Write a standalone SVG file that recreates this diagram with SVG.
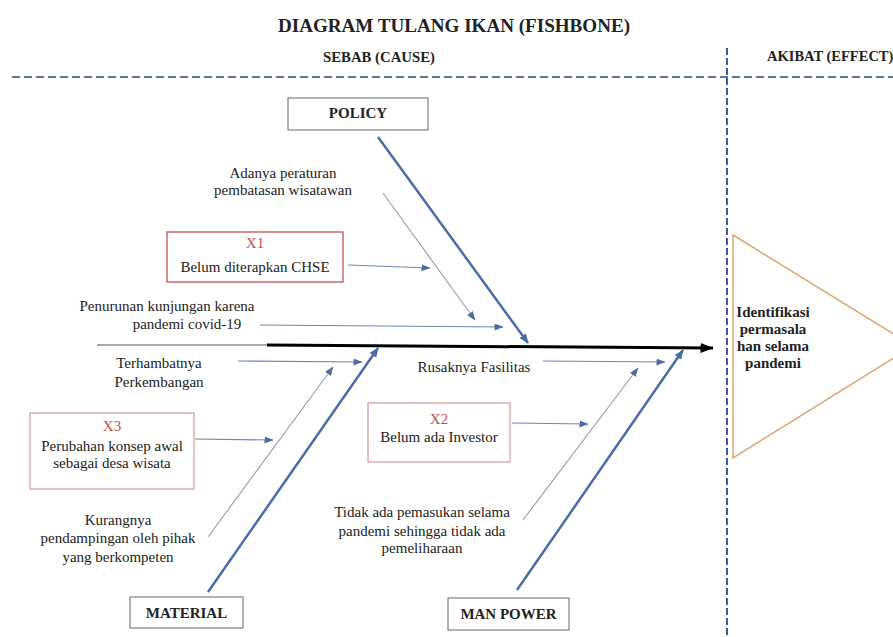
<svg xmlns="http://www.w3.org/2000/svg" width="893" height="637" viewBox="0 0 893 637">
<style>
  text { font-family: "Liberation Serif", "Times New Roman", serif; fill: #222; }
  .t { font-size: 15px; text-anchor: middle; }
  .b { font-weight: bold; }
  .hd { font-size: 14.5px; font-weight: bold; }
  .box { fill: #fff; stroke: #7f7f7f; stroke-width: 1.2; }
  .xbox { fill: #fff; stroke: #c0504d; stroke-width: 1.3; }
  .xbox2 { fill: #fff; stroke: #d49a98; stroke-width: 1.2; }
  .xl { fill: #c0504d; }
  .bone { stroke: #4a6da8; stroke-width: 2.5; fill: none; }
  .sub { stroke: #95a3b8; stroke-width: 1.2; fill: none; }
  .hz { stroke: #6b86b2; stroke-width: 1.2; fill: none; }
  .dash { stroke: #5f7595; stroke-width: 2; stroke-dasharray: 8 4; fill: none; }
  .vdash { stroke: #3d5c94; stroke-width: 2; stroke-dasharray: 7 3; fill: none; }
</style>
<defs>
  <marker id="ahBone" markerUnits="userSpaceOnUse" markerWidth="10" markerHeight="10" viewBox="0 0 10 10" refX="9" refY="5" orient="auto">
    <path d="M0,1 L10,5 L0,9 Z" fill="#4a6da8"/>
  </marker>
  <marker id="ahSub" markerUnits="userSpaceOnUse" markerWidth="9" markerHeight="8" viewBox="0 0 9 8" refX="8.5" refY="4" orient="auto">
    <path d="M0,0.5 L9,4 L0,7.5 Z" fill="#4d6b9e"/>
  </marker>
  <marker id="ahSpine" markerUnits="userSpaceOnUse" markerWidth="13" markerHeight="11" viewBox="0 0 13 11" refX="12.5" refY="5.5" orient="auto">
    <path d="M0,0.5 L13,5.5 L0,10.5 Z" fill="#000"/>
  </marker>
</defs>
<rect width="893" height="637" fill="#fff"/>

<g id="headers">
  <text x="454" y="32" text-anchor="middle" font-size="19" font-weight="bold" textLength="352" lengthAdjust="spacingAndGlyphs">DIAGRAM TULANG IKAN (FISHBONE)</text>
  <text x="323" y="62" class="hd" textLength="112" lengthAdjust="spacingAndGlyphs">SEBAB (CAUSE)</text>
  <text x="767" y="61" class="hd">AKIBAT (EFFECT)</text>
</g>

<g id="dividers">
  <line class="dash" x1="12" y1="77" x2="893" y2="77"/>
  <line class="vdash" x1="727" y1="48" x2="727" y2="637"/>
</g>

<g id="connectors">
  <line x1="97" y1="345" x2="267" y2="345" stroke="#555" stroke-width="1"/>
  <line x1="267" y1="345" x2="713" y2="348" stroke="#000" stroke-width="3" marker-end="url(#ahSpine)"/>
  <line class="bone" x1="378" y1="137" x2="528" y2="343" marker-end="url(#ahBone)"/>
  <line class="bone" x1="208" y1="592" x2="378" y2="348" marker-end="url(#ahBone)"/>
  <line class="bone" x1="517" y1="590" x2="683" y2="350" marker-end="url(#ahBone)"/>
  <line class="sub" x1="383" y1="193" x2="475" y2="320" marker-end="url(#ahSub)"/>
  <line class="sub" x1="208" y1="537" x2="333" y2="367" marker-end="url(#ahSub)"/>
  <line class="sub" x1="523" y1="520" x2="638" y2="368" marker-end="url(#ahSub)"/>
  <line class="hz" x1="348" y1="265" x2="430" y2="268" marker-end="url(#ahSub)"/>
  <line class="hz" x1="260" y1="325" x2="503" y2="327" marker-end="url(#ahSub)"/>
  <line class="hz" x1="238" y1="361" x2="362" y2="362" marker-end="url(#ahSub)"/>
  <line class="hz" x1="195" y1="439" x2="273" y2="440" marker-end="url(#ahSub)"/>
  <line class="hz" x1="543" y1="361" x2="665" y2="362" marker-end="url(#ahSub)"/>
  <line class="hz" x1="512" y1="423" x2="588" y2="424" marker-end="url(#ahSub)"/>
</g>

<g id="policy">
  <rect class="box" x="288" y="98" width="140" height="32"/>
  <text x="358" y="118" class="t b">POLICY</text>
</g>
<g id="material">
  <rect class="box" x="130" y="597" width="113" height="31"/>
  <text x="186.5" y="618" class="t b">MATERIAL</text>
</g>
<g id="manpower">
  <rect class="box" x="448" y="598" width="121" height="32"/>
  <text x="508.5" y="619" class="t b">MAN POWER</text>
</g>

<g id="cause-adanya">
  <text x="283" y="178" class="t">Adanya peraturan</text>
  <text x="283" y="195" class="t">pembatasan wisatawan</text>
</g>
<g id="x1">
  <rect class="xbox" x="167" y="232" width="176" height="50"/>
  <text x="255" y="248" class="t xl">X1</text>
  <text x="255" y="272" class="t">Belum diterapkan CHSE</text>
</g>
<g id="cause-penurunan">
  <text x="167" y="311" class="t">Penurunan kunjungan karena</text>
  <text x="187" y="329" class="t">pandemi covid-19</text>
</g>
<g id="cause-terhambat">
  <text x="159" y="368" class="t">Terhambatnya</text>
  <text x="159" y="387" class="t">Perkembangan</text>
</g>
<g id="x3">
  <rect class="xbox2" x="30" y="413" width="164" height="76"/>
  <text x="112" y="431" class="t xl">X3</text>
  <text x="112" y="451" class="t">Perubahan konsep awal</text>
  <text x="112" y="468" class="t">sebagai desa wisata</text>
</g>
<g id="cause-kurangnya">
  <text x="118" y="525" class="t">Kurangnya</text>
  <text x="118" y="543" class="t">pendampingan oleh pihak</text>
  <text x="118" y="562" class="t">yang berkompeten</text>
</g>
<g id="cause-rusak">
  <text x="474" y="372" class="t">Rusaknya Fasilitas</text>
</g>
<g id="x2">
  <rect class="xbox2" x="368" y="403" width="142" height="59"/>
  <text x="439" y="424" class="t xl">X2</text>
  <text x="439" y="442" class="t">Belum ada Investor</text>
</g>
<g id="cause-tidak">
  <text x="422" y="517" class="t">Tidak ada pemasukan selama</text>
  <text x="422" y="536" class="t">pandemi sehingga tidak ada</text>
  <text x="422" y="553" class="t">pemeliharaan</text>
</g>

<g id="effect">
  <path d="M733,235 L913,346 L733,458 Z" fill="#fff" stroke="#dba76a" stroke-width="1.5"/>
  <text x="773" y="317" class="t b" font-size="14.5">Identifikasi</text>
  <text x="773" y="334" class="t b" font-size="14.5">permasala</text>
  <text x="773" y="351" class="t b" font-size="14.5">han selama</text>
  <text x="773" y="368" class="t b" font-size="14.5">pandemi</text>
</g>
</svg>
